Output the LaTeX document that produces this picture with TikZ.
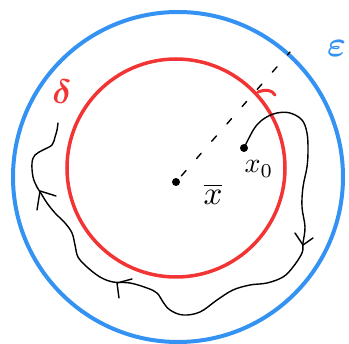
\documentclass[tikz,border=0pt]{standalone}
\usepackage{bm}
\definecolor{skyblue}{RGB}{52,146,243}
\definecolor{penred}{RGB}{242,52,52}
\begin{document}
\begin{tikzpicture}[x=1pt,y=-1pt,
  dotnode/.style={circle,fill=black,inner sep=0pt,minimum size=8pt},
  penline/.style={line width=1.4pt,line cap=round,line join=round},
  lbl/.style={inner sep=0pt}]
\useasboundingbox (0,0) rectangle (349,344);
% circles
\draw[skyblue,line width=4pt] (178,177) circle[radius=165];
\draw[penred,line width=3.5pt] (176,168) circle[radius=109];
\draw[penred,line width=3pt,line cap=round] (258,92) .. controls (266,89) and (272,90) .. (275,95);
% points
\node[dotnode] (xbar) at (176,182) {};
\node[dotnode] (x0) at (244,148) {};
\coordinate (dend) at (290,52);
\draw[penline,dash pattern=on 7pt off 16pt,dash phase=-4pt] (xbar) -- (dend);
% labels
\node[lbl,scale=3.3] (lxbar) at (213,194) {$\overline{x}$};
\node[lbl,scale=2.8] (lx0) at (259,169) {$x_0$};
\node[lbl,text=penred,scale=3.4] (ldelta) at (62,92) {$\bm{\delta}$};
\node[lbl,text=skyblue,anchor=east,scale=3.6] (leps) at (347,49) {$\bm{\varepsilon}$};
% path
\draw[penline] plot[smooth,tension=0.6] coordinates {(x0.center) (250,136) (256,126) (265,118) (277,113) (290,113) (302,120) (307,133) (308,150) (307,167) (303,187) (302,207) (305,227) (303,243) (302,253) (293,267) (283,277) (267,283) (250,285) (233,290) (217,300) (200,312) (183,315) (170,310) (163,302) (157,293) (147,288) (130,283) (113,282) (100,277) (87,267) (78,257) (75,245) (72,233) (65,223) (55,213) (47,203) (42,195) (37,187) (33,177) (32,163) (35,155) (43,150) (52,145) (55,137) (57,130) (58,123)};
% arrowheads
\draw[penline] (295,233) -- (303,245) -- (313,238);
\draw[penline] (132,279) -- (117,283) -- (119,298);
\draw[penline] (56,196) -- (40,191) -- (37,210);
\end{tikzpicture}
\end{document}
